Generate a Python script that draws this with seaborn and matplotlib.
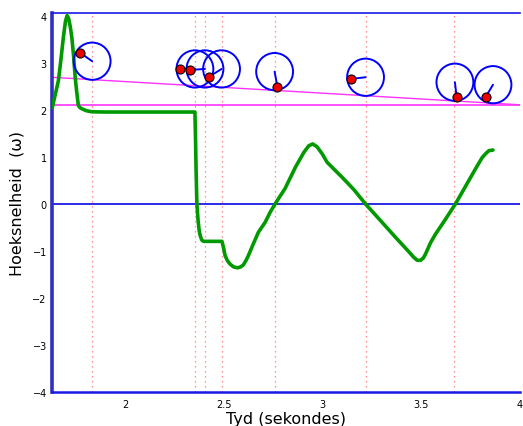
import numpy as np
import pandas as pd
import matplotlib
matplotlib.use("Agg")
import matplotlib.pyplot as plt
from matplotlib.patches import Ellipse
import seaborn as sns

# ---- data ----
omega_t = [1.629, 1.645, 1.660, 1.672, 1.685, 1.696, 1.704, 1.712, 1.720, 1.728,
           1.737, 1.745, 1.753, 1.761, 1.770, 1.779, 1.800, 1.829, 1.900, 2.000,
           2.100, 2.200, 2.300, 2.352, 2.355, 2.358, 2.362, 2.368, 2.374, 2.379,
           2.387, 2.396, 2.440, 2.489, 2.497, 2.505, 2.517, 2.530, 2.548, 2.568,
           2.584, 2.597, 2.610, 2.623, 2.648, 2.674, 2.708, 2.733, 2.758, 2.809,
           2.861, 2.904, 2.929, 2.949, 2.971, 2.997, 3.022, 3.048, 3.098, 3.157,
           3.217, 3.290, 3.369, 3.437, 3.460, 3.479, 3.496, 3.510, 3.521, 3.547,
           3.572, 3.623, 3.674, 3.750, 3.780, 3.809, 3.830, 3.843, 3.863]
omega_v = [2.06, 2.35, 2.63, 3.05, 3.55, 3.90, 4.015, 3.95, 3.78, 3.55,
           3.15, 2.70, 2.38, 2.10, 2.05, 2.03, 1.99, 1.965, 1.96, 1.96,
           1.96, 1.96, 1.96, 1.96, 1.40, 0.70, 0.00, -0.35, -0.58, -0.675,
           -0.77, -0.796, -0.796, -0.796, -0.93, -1.10, -1.21, -1.28, -1.34, -1.36,
           -1.34, -1.30, -1.21, -1.10, -0.85, -0.60, -0.39, -0.18, 0.00, 0.33,
           0.78, 1.10, 1.24, 1.28, 1.22, 1.07, 0.89, 0.78, 0.57, 0.31,
           0.00, -0.34, -0.71, -1.02, -1.13, -1.20, -1.20, -1.15, -1.066, -0.82,
           -0.64, -0.32, 0.01, 0.57, 0.79, 0.995, 1.09, 1.137, 1.15]

event_t = [1.831, 2.352, 2.403, 2.487, 2.756, 3.217, 3.667]

wheel_x = [1.831, 2.352, 2.403, 2.487, 2.756, 3.217, 3.670, 3.863]
wheel_y = [3.043, 2.878, 2.878, 2.878, 2.821, 2.701, 2.595, 2.542]
mark_x = [1.769, 2.278, 2.328, 2.425, 2.770, 3.142, 3.679, 3.826]
mark_y = [3.226, 2.885, 2.857, 2.714, 2.501, 2.665, 2.275, 2.281]
wheel_rx = 0.0934
wheel_ry = 0.397

ramp_x = [1.629, 4.017]
ramp_y = [2.70, 2.11]
ground_y = 2.10

xticks = [2, 2.5, 3, 3.5, 4]
xtick_labels = ["2", "2.5", "3", "3.5", "4"]
yticks = [-4, -3, -2, -1, 0, 1, 2, 3, 4]
ytick_labels = ["\u22124", "\u22123", "\u22122", "\u22121", "0", "1", "2", "3", "4"]

# ---- figure ----
sns.set_style("white")
plt.rcParams['font.family'] = ['DejaVu Sans']
W, H = 523, 427
fig = plt.figure(figsize=(W / 100, H / 100), dpi=100)
ax = fig.add_axes([52.3 / W, (H - 392.7) / H, (520 - 52.3) / W, (392.7 - 14.3) / H])

ax.set_xlim(1.629, 4.0)
ax.set_ylim(-4, 4.064)

for t in event_t:
    ax.axvline(t, color="#ff7070", ls=(0, (1, 3)), lw=0.9, zorder=1)

ax.axhline(0, color="#1a1ae6", lw=1.3, zorder=2)
ax.axhline(ground_y, color="#ff33ff", lw=1.2, zorder=2)
ax.plot(ramp_x, ramp_y, color="#ff33ff", lw=1.0, zorder=2)

for cx, cy, mx, my in zip(wheel_x, wheel_y, mark_x, mark_y):
    ax.add_patch(Ellipse((cx, cy), 2 * wheel_rx, 2 * wheel_ry, fill=False,
                         edgecolor="#0000ff", lw=1.4, zorder=4))
    ax.plot([cx, mx], [cy, my], color="#0000ff", lw=1.4, zorder=4)
ax.plot(mark_x, mark_y, ls="none", marker="o", ms=6.5, mfc="#ee0000",
        mec="black", mew=0.8, zorder=5)

df = pd.DataFrame({"t": omega_t, "w": omega_v})
sns.lineplot(data=df, x="t", y="w", sort=False, estimator=None, ax=ax,
             color="#009900", lw=2.6, zorder=3)

ax.set_xticks(xticks)
ax.set_xticklabels(xtick_labels)
ax.set_yticks(yticks)
ax.set_yticklabels(ytick_labels)
ax.tick_params(direction="in", length=5, width=0.8, colors="black",
               labelsize=7, pad=4)
ax.tick_params(axis="x", pad=5)

for s in ["left", "bottom", "top"]:
    ax.spines[s].set_visible(True)
    ax.spines[s].set_color("#1a1ae6")
ax.spines["left"].set_linewidth(2.6)
ax.spines["left"].set_color("#3030c0")
ax.spines["bottom"].set_linewidth(1.8)
ax.spines["top"].set_linewidth(1.2)
ax.spines["right"].set_visible(False)

ax.set_xlabel("Tyd (sekondes)", fontsize=11.5, color="black", labelpad=2)
ax.set_ylabel("Hoeksnelheid  (\u03c9)", fontsize=11.5, color="black", labelpad=6)

fig.savefig("out.png", dpi=100, facecolor="white")
